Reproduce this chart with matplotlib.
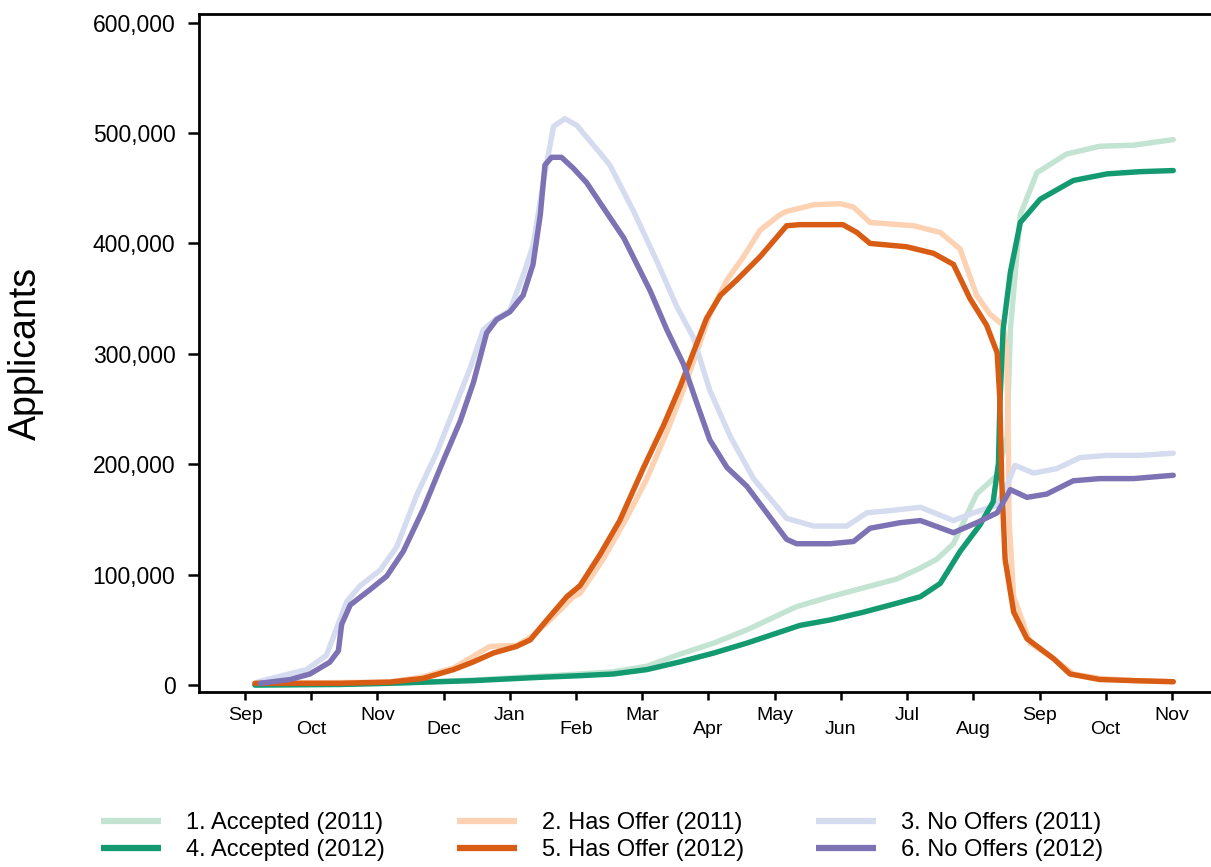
import matplotlib
matplotlib.use("Agg")
import matplotlib.pyplot as plt
import numpy as np
from matplotlib.ticker import FixedLocator, StrMethodFormatter

plt.rcParams.update({
    "font.family": ["Liberation Sans", "DejaVu Sans"],
    "axes.linewidth": 2.0,
    "xtick.major.width": 1.8,
    "ytick.major.width": 1.8,
})

# month index: 0 = Sep (first), 14 = Nov (second year); values in thousands
month_labels = ["Sep", "Oct", "Nov", "Dec", "Jan", "Feb", "Mar", "Apr",
                "May", "Jun", "Jul", "Aug", "Sep", "Oct", "Nov"]

acc_2011_m = [0.15, 2.19, 3.45, 4.46, 5.06, 5.56, 6.07, 6.57, 7.08, 7.58, 8.08, 8.33, 8.84,
              9.34, 9.84, 10.2, 10.45, 10.7, 11.05, 11.36, 11.51, 11.56, 11.71, 11.96,
              12.41, 12.91, 13.42, 14.02]
acc_2011_v = [0, 1.6, 4.5, 8, 10, 12, 17, 28, 38, 50, 64, 71, 80,
              88, 96, 106, 114, 128, 173, 190, 225, 322, 426, 464,
              481, 488, 489, 494]

offer_2011_m = [0.15, 2.19, 2.69, 3.15, 3.7, 4.1, 4.31, 4.61, 4.96, 5.06, 5.41, 5.77, 6.07,
                6.37, 6.62, 6.82, 7.02, 7.28, 7.53, 7.78, 8.08, 8.18, 8.59, 8.99, 9.19,
                9.44, 10.1, 10.5, 10.8, 11.05, 11.25, 11.45, 11.5, 11.52, 11.53, 11.54,
                11.61, 11.86, 12.21, 12.51, 12.91, 13.42, 14.02]
offer_2011_v = [1.5, 2.7, 7.5, 15.5, 35, 36, 43, 59, 80, 83, 114, 152, 187,
                229, 267, 301, 336, 367, 388, 412, 426, 429, 435, 436, 433,
                419, 416, 410, 395, 353, 336, 326, 305, 253, 218, 149,
                80, 38, 24, 10, 6, 4, 3]

nooff_2011_m = [0.2, 0.93, 1.23, 1.54, 1.74, 2.04, 2.29, 2.6, 2.9, 3.15, 3.4, 3.6, 3.8, 4.0,
                4.2, 4.35, 4.51, 4.66, 4.83, 5.01, 5.36, 5.51, 5.87, 6.22, 6.52, 6.77,
                7.02, 7.33, 7.68, 8.18, 8.59, 9.09, 9.39, 9.74, 10.2, 10.7, 11.05, 11.36,
                11.53, 11.63, 11.91, 12.26, 12.61, 13.02, 13.52, 14.02]
nooff_2011_v = [3, 14, 27, 76, 90, 104, 125, 173, 211, 249, 287, 322, 332, 339,
                371, 398, 457, 506, 513, 507, 482, 471, 429, 384, 343, 315,
                267, 225, 187, 151, 144, 144, 156, 158, 161, 149, 157, 163,
                184, 199, 192, 196, 206, 208, 208, 210]

acc_2012_m = [0.15, 1.43, 2.19, 3.45, 4.46, 5.06, 5.56, 6.07, 6.57, 7.08, 7.58, 8.08, 8.38,
              8.84, 9.34, 9.84, 10.2, 10.5, 10.8, 11.1, 11.3, 11.38, 11.4, 11.45, 11.56,
              11.71, 12.01, 12.51, 13.02, 13.52, 14.02]
acc_2012_v = [0, 0.5, 1.6, 4, 7, 8.5, 10, 14, 21, 29, 38, 48, 54,
              59, 66, 74, 80, 92, 121, 145, 166, 201, 253, 322, 374,
              419, 440, 457, 463, 465, 466]

offer_2012_m = [0.15, 1.43, 2.19, 2.69, 3.15, 3.45, 3.75, 4.1, 4.31, 4.56, 4.86, 5.06, 5.36,
                5.66, 6.02, 6.32, 6.57, 6.77, 6.97, 7.18, 7.43, 7.78, 8.18, 8.38, 9.03,
                9.24, 9.44, 9.99, 10.4, 10.7, 10.95, 11.2, 11.36, 11.4, 11.43, 11.48,
                11.61, 11.81, 12.21, 12.46, 12.91, 13.42, 14.02]
offer_2012_v = [1.6, 1.6, 2.7, 6, 14, 21, 29, 35, 41, 59, 80, 90, 118,
                149, 197, 235, 270, 301, 332, 353, 367, 388, 416, 417, 417,
                410, 400, 397, 391, 381, 350, 326, 301, 260, 183, 114,
                66, 42, 24, 10, 5, 4, 3]

nooff_2012_m = [0.23, 0.68, 0.98, 1.28, 1.41, 1.46, 1.59, 1.89, 2.14, 2.39, 2.69, 3.0, 3.25,
                3.45, 3.65, 3.8, 4.0, 4.2, 4.35, 4.46, 4.53, 4.63, 4.78, 4.96, 5.16, 5.36,
                5.72, 6.12, 6.37, 6.62, 6.82, 7.02, 7.28, 7.58, 7.88, 8.18, 8.33, 8.84,
                9.19, 9.44, 9.89, 10.2, 10.7, 11.05, 11.36, 11.56, 11.81, 12.11, 12.51,
                12.91, 13.42, 14.02]
nooff_2012_v = [1.6, 5, 10, 20.7, 31, 55, 72.6, 86.5, 98.6, 121, 159, 204, 239,
                274, 319, 331, 338, 353, 381, 426, 471, 478, 478, 468, 455, 437,
                405, 357, 322, 291, 256, 222, 197, 180, 156, 132, 128, 128,
                130, 142, 147, 149, 138, 147, 156, 177, 170, 173, 185,
                187, 187, 190]

series = [
    ("1. Accepted (2011)", acc_2011_m, acc_2011_v, "#c3e3d3"),
    ("2. Has Offer (2011)", offer_2011_m, offer_2011_v, "#fdd2b3"),
    ("3. No Offers (2011)", nooff_2011_m, nooff_2011_v, "#d5dcef"),
    ("4. Accepted (2012)", acc_2012_m, acc_2012_v, "#139a70"),
    ("5. Has Offer (2012)", offer_2012_m, offer_2012_v, "#d95c14"),
    ("6. No Offers (2012)", nooff_2012_m, nooff_2012_v, "#7c72b4"),
]

fig = plt.figure(figsize=(12.11, 8.67), dpi=100)
ax = fig.add_axes([199 / 1211, 1 - 692 / 867, 1 - 199 / 1211, (692 - 14) / 867])

handles = {}
for name, m, v, col in series:
    h, = ax.plot(m, np.array(v) * 1000, color=col, lw=3.9,
                 solid_capstyle="round", solid_joinstyle="round")
    handles[name] = h

ax.set_xlim(-0.695, 14.59)
ax.set_ylim(-6300, 607800)
ax.spines["right"].set_visible(False)

ax.xaxis.set_major_locator(FixedLocator(range(len(month_labels))))
ax.set_xticklabels(month_labels, fontsize=14)
ax.tick_params(axis="x", length=6, direction="out")
for i, t in enumerate(ax.xaxis.get_major_ticks()):
    t.set_pad(5 if i % 2 == 0 else 15)

ax.yaxis.set_major_locator(FixedLocator(range(0, 600001, 100000)))
ax.yaxis.set_major_formatter(StrMethodFormatter("{x:,.0f}"))
ax.tick_params(axis="y", length=8, direction="out", labelsize=16.5, pad=9)

ax.set_ylabel("Applicants", fontsize=27)
ax.yaxis.set_label_coords(-0.153, 0.5)

order = ["1. Accepted (2011)", "4. Accepted (2012)", "2. Has Offer (2011)",
         "5. Has Offer (2012)", "3. No Offers (2011)", "6. No Offers (2012)"]
leg = fig.legend([handles[k] for k in order], order, ncol=3, frameon=False,
                 loc="upper left", bbox_to_anchor=(101 / 1211, 1 - 812 / 867),
                 bbox_transform=fig.transFigure, fontsize=17,
                 handlelength=2.55, handletextpad=1.05, columnspacing=3.05,
                 labelspacing=0.22, borderpad=0, borderaxespad=0)
for line in leg.get_lines():
    line.set_linewidth(4.5)
    line.set_solid_capstyle("butt")

fig.savefig("out.png", dpi=100)
